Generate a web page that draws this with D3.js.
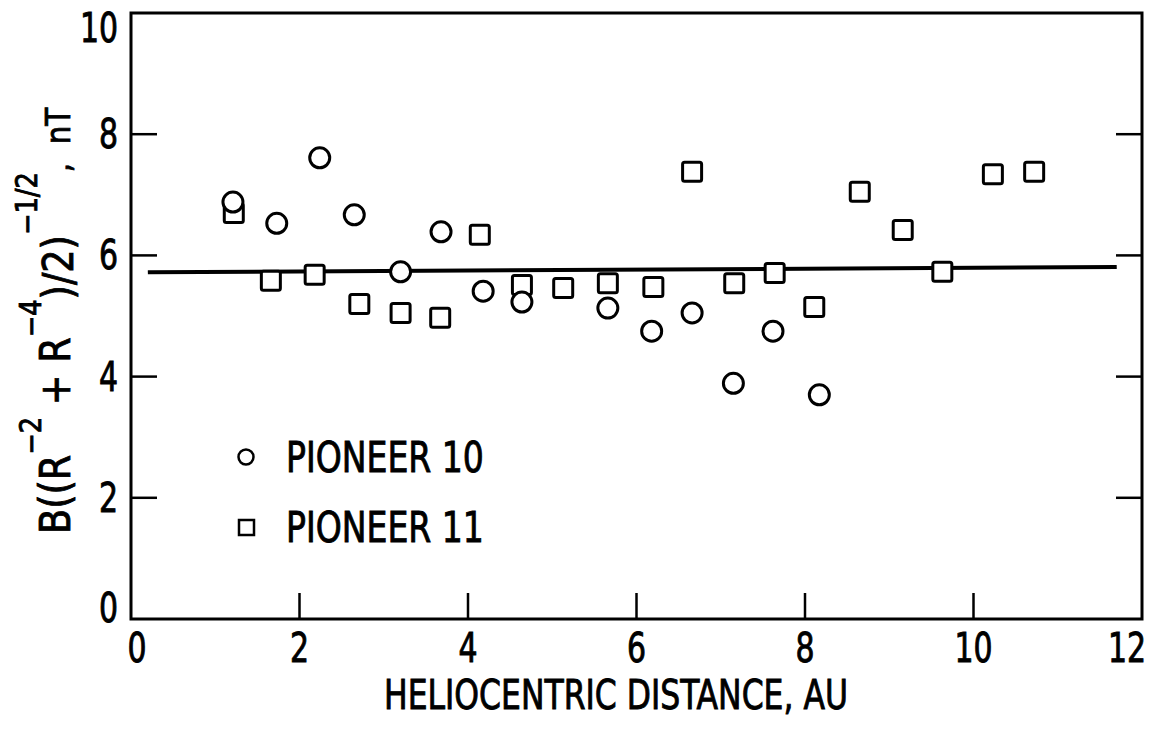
<!DOCTYPE html>
<html>
<head>
<meta charset="utf-8">
<script src="https://cdn.jsdelivr.net/npm/d3@7"></script>
<style>
    body { margin: 0; background: #fff; }
    svg text { font-family: "Liberation Sans Narrow", "DejaVu Sans Condensed", "DejaVu Sans", sans-serif; font-stretch: condensed; fill: #000; stroke: #000; stroke-width: 0.8px; }
</style>
</head>
<body>
<svg id="chart" width="1154" height="735"></svg>
<script>
// Pioneer 10 (circles)
var p10X = [1.21, 1.73, 2.24, 2.65, 3.20, 3.68, 4.18, 4.64, 5.66, 6.18, 6.66, 7.15, 7.62, 8.17]
var p10Y = [6.88, 6.53, 7.61, 6.67, 5.73, 6.39, 5.41, 5.23, 5.13, 4.75, 5.05, 3.89, 4.75, 3.70]

// Pioneer 11 (squares)
var p11X = [1.22, 1.66, 2.18, 2.71, 3.20, 3.67, 4.14, 4.64, 5.13, 5.66, 6.20, 6.66, 7.16, 7.64, 8.11, 8.65, 9.16, 9.63, 10.23, 10.72]
var p11Y = [6.70, 5.58, 5.68, 5.20, 5.05, 4.97, 6.34, 5.51, 5.46, 5.54, 5.48, 7.38, 5.54, 5.71, 5.15, 7.05, 6.42, 5.73, 7.34, 7.38]

// fitted line
var fitX = [0.2, 11.7]
var fitY = [5.72, 5.81]

var xTicks = [0, 2, 4, 6, 8, 10, 12]
var yTicks = [0, 2, 4, 6, 8, 10]
var legendNames = ["PIONEER 10", "PIONEER 11"]

var svg = d3.select("#chart")
var plotLeft = 131, plotRight = 1142, plotTop = 13, plotBottom = 619

var x = d3.scaleLinear().domain([0, 12]).range([plotLeft, plotRight])
var y = d3.scaleLinear().domain([0, 10]).range([plotBottom, plotTop])

function zip(xs, ys) {
    return xs.map(function (v, i) { return {x: v, y: ys[i]} })
}

// lettering in the original is tall and narrow
function squeeze(px, py, sx) {
    return "translate(" + px + "," + py + ") scale(" + sx + ",1.08)"
}

// frame
svg.append("rect")
    .attr("x", plotLeft).attr("y", plotTop)
    .attr("width", plotRight - plotLeft).attr("height", plotBottom - plotTop)
    .attr("fill", "none").attr("stroke", "#000").attr("stroke-width", 3)

// inward ticks
var tickLen = 26
svg.append("g").selectAll("line")
    .data(xTicks.slice(1, -1))
    .enter().append("line")
    .attr("x1", function (d) { return x(d) }).attr("x2", function (d) { return x(d) })
    .attr("y1", plotBottom).attr("y2", plotBottom - tickLen)
    .attr("stroke", "#000").attr("stroke-width", 2.5)

svg.append("g").selectAll("line")
    .data(yTicks.slice(1, -1))
    .enter().append("line")
    .attr("x1", plotLeft).attr("x2", plotLeft + tickLen)
    .attr("y1", function (d) { return y(d) }).attr("y2", function (d) { return y(d) })
    .attr("stroke", "#000").attr("stroke-width", 2.5)

svg.append("g").selectAll("line")
    .data(yTicks.slice(1, -1))
    .enter().append("line")
    .attr("x1", plotRight).attr("x2", plotRight - tickLen)
    .attr("y1", function (d) { return y(d) }).attr("y2", function (d) { return y(d) })
    .attr("stroke", "#000").attr("stroke-width", 2.5)

// tick labels
svg.append("g").selectAll("text")
    .data(xTicks)
    .enter().append("text")
    .attr("transform", function (d) {
        return squeeze(x(d) + (d == 0 ? 6 : d == 12 ? -15 : 0), 662, 0.9)
    })
    .attr("text-anchor", "middle")
    .attr("font-size", 37)
    .text(function (d) { return d })

svg.append("g").selectAll("text")
    .data(yTicks)
    .enter().append("text")
    .attr("transform", function (d) {
        return squeeze(118, y(d) + 14 + (d == 0 ? -11 : d == 10 ? 15 : 0), 0.9)
    })
    .attr("text-anchor", "end")
    .attr("font-size", 37)
    .text(function (d) { return d })

// axis titles
svg.append("text")
    .attr("transform", squeeze(616, 709, 0.92))
    .attr("text-anchor", "middle")
    .attr("font-size", 38)
    .text("HELIOCENTRIC DISTANCE, AU")

var yTitle = svg.append("text")
    .attr("transform", "translate(70,534) rotate(-90) scale(1.02,1.05)")
    .attr("font-size", 40)
yTitle.append("tspan").text("B((R")
yTitle.append("tspan").attr("dy", -28).attr("font-size", 28).text("\u22122")
yTitle.append("tspan").attr("dy", 28).text(" + R")
yTitle.append("tspan").attr("dy", -28).attr("font-size", 28).text("\u22124")
yTitle.append("tspan").attr("dy", 31).text(")/2)")
yTitle.append("tspan").attr("dy", -34).attr("font-size", 28).text("\u22121/2")
yTitle.append("tspan").attr("dy", 31).attr("font-size", 32).text(",\u00a0\u00a0nT")

// fit line
svg.append("path")
    .datum(zip(fitX, fitY))
    .attr("d", d3.line().x(function (d) { return x(d.x) }).y(function (d) { return y(d.y) }))
    .attr("fill", "none").attr("stroke", "#000").attr("stroke-width", 4)

// data
var side = 19
svg.append("g").selectAll("rect")
    .data(zip(p11X, p11Y))
    .enter().append("rect")
    .attr("x", function (d) { return x(d.x) - side / 2 })
    .attr("y", function (d) { return y(d.y) - side / 2 })
    .attr("width", side).attr("height", side).attr("rx", 2)
    .attr("fill", "#fff").attr("stroke", "#000").attr("stroke-width", 3)

svg.append("g").selectAll("circle")
    .data(zip(p10X, p10Y))
    .enter().append("circle")
    .attr("cx", function (d) { return x(d.x) })
    .attr("cy", function (d) { return y(d.y) })
    .attr("r", 10)
    .attr("fill", "#fff").attr("stroke", "#000").attr("stroke-width", 3)

// legend
svg.append("circle")
    .attr("cx", 246).attr("cy", 457).attr("r", 7.5)
    .attr("fill", "none").attr("stroke", "#000").attr("stroke-width", 2.5)
svg.append("rect")
    .attr("x", 239).attr("y", 520).attr("width", 15).attr("height", 15)
    .attr("fill", "none").attr("stroke", "#000").attr("stroke-width", 2.5)

svg.append("g").selectAll("text")
    .data(legendNames)
    .enter().append("text")
    .attr("transform", function (d, i) { return squeeze(286, 472 + i * 70, 0.92) })
    .attr("font-size", 40)
    .text(function (d) { return d })
</script>
</body>
</html>
